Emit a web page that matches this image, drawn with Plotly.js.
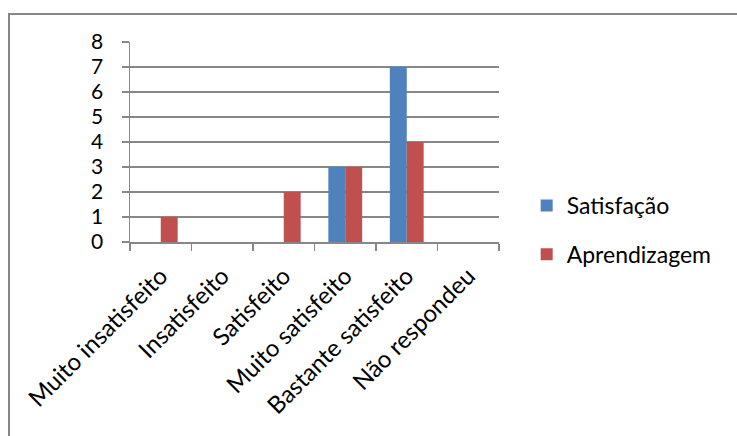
<!DOCTYPE html>
<html>
<head>
<meta charset="utf-8">
<script src="https://cdn.plot.ly/plotly-3.0.1.min.js"></script>
<style>
  html, body { margin: 0; padding: 0; background: #fff; }
  #wrap { position: relative; width: 737px; height: 436px; overflow: hidden; }
  #chart { width: 737px; height: 436px; }
  #frame {
    position: absolute; left: 8px; top: 13px; width: 800px; height: 500px;
    border-left: 2px solid #878787; border-top: 2px solid #878787;
    pointer-events: none;
  }
</style>
</head>
<body>
<div id="wrap">
  <div id="chart"></div>
  <div id="frame"></div>
</div>
<script>
// Survey answers, counted per response category
const categories = [
  "Muito insatisfeito",
  "Insatisfeito",
  "Satisfeito",
  "Muito satisfeito",
  "Bastante satisfeito",
  "Não respondeu"
];
const satisfacao   = [0, 0, 0, 3, 7, 0];
const aprendizagem = [1, 0, 2, 3, 4, 0];
const yTicks = [0, 1, 2, 3, 4, 5, 6, 7, 8];

const FONT = "Lato, 'Open Sans', sans-serif";

const traces = [
  {
    type: "bar", name: "Satisfação", x: categories, y: satisfacao,
    marker: { color: "#4F81BD" }, legendgroup: "a", hoverinfo: "x+y"
  },
  {
    type: "bar", name: "Aprendizagem", x: categories, y: aprendizagem,
    marker: { color: "#C0504D" }, legendgroup: "b", hoverinfo: "x+y"
  }
];

const layout = {
  width: 737, height: 436,
  margin: { l: 130, r: 238, t: 42, b: 194 },
  paper_bgcolor: "#fff", plot_bgcolor: "#fff",
  barmode: "group", bargap: 0.45, bargroupgap: 0,
  font: { family: FONT, color: "#000", size: 20 },
  showlegend: true,
  legend: {
    x: 1.075, y: 0.29, xanchor: "left", yanchor: "top",
    font: { family: FONT, size: 23, color: "#000" },
    traceorder: "grouped", tracegroupgap: 16,
    bgcolor: "rgba(0,0,0,0)"
  },
  xaxis: {
    type: "category",
    tickangle: -45,
    tickson: "boundaries",
    ticks: "outside", ticklen: 7, tickcolor: "#878787", tickwidth: 1.5,
    ticklabelstandoff: 9,
    showline: true, linecolor: "#878787", linewidth: 1.5,
    showgrid: false, zeroline: false,
    tickfont: { family: FONT, size: 24, color: "#000" },
    fixedrange: true
  },
  yaxis: {
    range: [0, 8],
    tickvals: yTicks, ticktext: yTicks.map(String),
    ticks: "outside", ticklen: 7, tickcolor: "#878787", tickwidth: 1.5,
    ticklabelstandoff: 14,
    showline: true, linecolor: "#878787", linewidth: 1.5,
    showgrid: true, gridcolor: "#878787", gridwidth: 1.5,
    zeroline: false,
    tickfont: { family: FONT, size: 21, color: "#000" },
    fixedrange: true
  }
};

Plotly.newPlot("chart", traces, layout, { displayModeBar: false, staticPlot: true });
</script>
</body>
</html>
